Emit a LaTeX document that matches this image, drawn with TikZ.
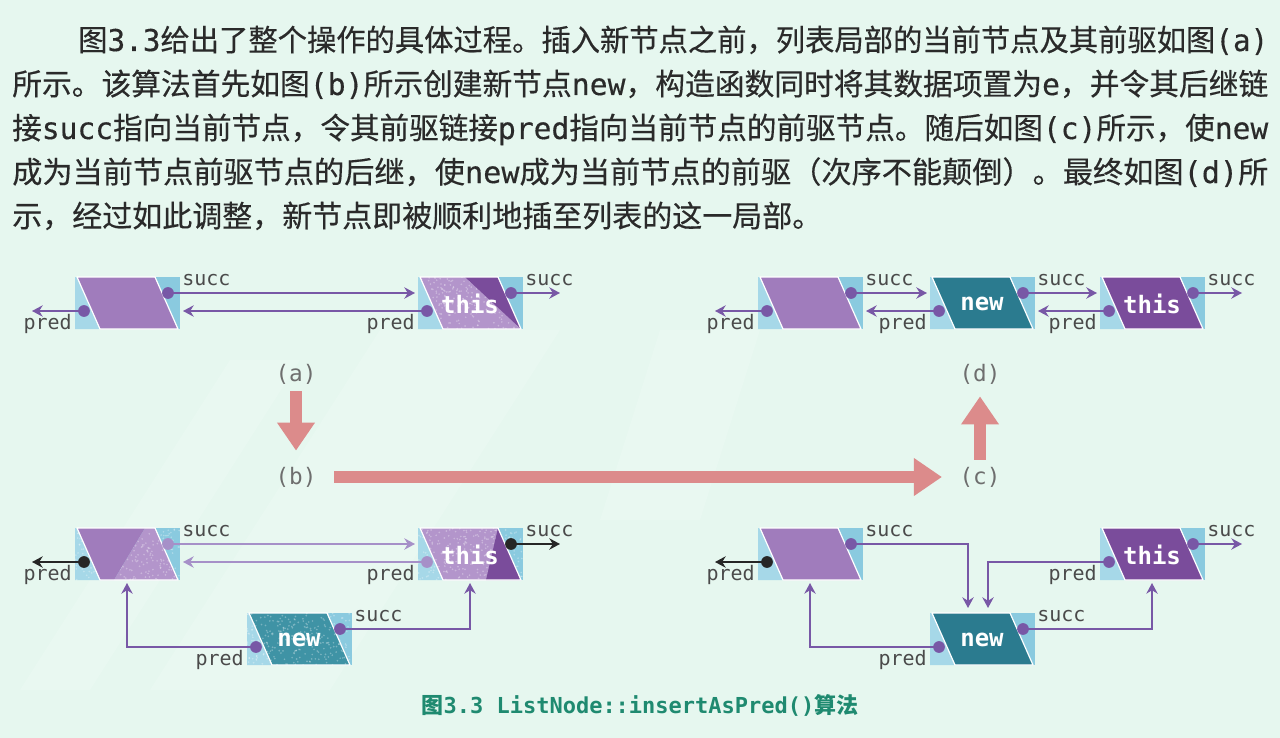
\documentclass[tikz,border=0pt]{standalone}
\usepackage{fontspec}
\usepackage{graphicx}
\setmainfont{Noto Sans CJK SC}
\newfontfamily\parafont[FakeBold=0.35]{Noto Sans CJK SC}
\newfontfamily\monofont{DejaVu Sans Mono}
\newfontfamily\paramono[FakeBold=0.35]{DejaVu Sans Mono}
\usetikzlibrary{arrows.meta,calc}

\definecolor{bgc}{HTML}{E6F7EF}
\definecolor{txtc}{HTML}{2A2A2A}
\definecolor{labc}{HTML}{4A4A4A}
\definecolor{stagec}{HTML}{6E6E6E}
\definecolor{capc}{HTML}{1F8A70}
\definecolor{linkc}{HTML}{7858A6}
\definecolor{palec}{HTML}{A690C8}
\definecolor{darkc}{HTML}{262626}
\definecolor{cellc}{HTML}{8ACADF}
\definecolor{celllt}{HTML}{A6D8E8}
\definecolor{plum}{HTML}{A07CBC}
\definecolor{plumlt}{HTML}{B395CB}
\definecolor{plumdk}{HTML}{7A4C9B}
\definecolor{tealc}{HTML}{2B7B8F}
\definecolor{teallt}{HTML}{3F93A5}
\definecolor{redc}{HTML}{DC8B8B}

\newcommand\m[1]{{\paramono #1}}
\newcommand\cm[1]{{\monofont #1}}

\tikzset{
  para/.style={inner sep=0pt, text=txtc, font=\parafont\fontsize{22.5}{27}\selectfont},
  lab/.style={inner sep=0pt, text=labc, font=\monofont\fontsize{15}{17}\selectfont},
  stage/.style={inner sep=1pt, text=stagec, font=\monofont\fontsize{17}{20}\selectfont},
  celltext/.style={inner sep=0pt, text=white, font=\monofont\bfseries\fontsize{18}{21}\selectfont},
  link/.style={draw=linkc, line width=2.2pt, -{Stealth[length=8pt,width=8.5pt]}},
  palelink/.style={link, draw=palec},
  darklink/.style={link, draw=darkc},
  bigarrow/.style={draw=redc, line width=9.5pt, -{Triangle[length=21pt,width=27pt]}},
  caption/.style={inner sep=0pt, text=capc, font=\bfseries\fontsize{16.5}{20}\selectfont},
  haze/.style={fill=white, opacity=0.14},
}

% grainy overlay clipped to a region given in local node coordinates
\newcommand\speckle[1]{%
  \begin{scope}
    \clip #1;
    \foreach \k in {1,...,260}{\fill[white,opacity=.3] (rnd*105,rnd*52) circle[radius=.7pt];}
  \end{scope}}

% list node: #1 name, #2/#3 top-left corner, #4 body drawing, #5 label
\newcommand\listnode[5]{%
  \begin{scope}[shift={(#2,#3)}]
    \coordinate (tl) at (2,0);  \coordinate (tr) at (80,0);
    \coordinate (br) at (103,52); \coordinate (bl) at (25,52);
    \fill[cellc] (0,0) rectangle (105,52);
    \fill[celllt] (0,0) -- (tl) -- (bl) -- (0,52) -- cycle;
    #4
    \draw[white, line width=0.9pt, line join=round] (tl) -- (tr) -- (br) -- (bl) -- cycle;
    \coordinate (#1-s) at (93,16);
    \coordinate (#1-p) at (9,34);
    \coordinate (#1-w) at (-3,16);
    \coordinate (#1-e) at (108,34);
    \coordinate (#1-so) at (142,16);
    \coordinate (#1-po) at (-43,34);
    \coordinate (#1-b) at (52,55);
    \coordinate (#1-t1) at (38,-5);
    \coordinate (#1-t2) at (58,-5);
    \node[celltext] (#1) at (52,27) {#5};
    \node[lab, anchor=west] (#1-sl) at (107,3) {succ};
    \node[lab, anchor=east] (#1-pl) at (-3,47) {pred};
  \end{scope}}

\newcommand\dotat[2][linkc]{\fill[#1] (#2) circle[radius=4.4pt];}

\begin{document}
\begin{tikzpicture}[x=0.75pt,y=-0.75pt]
\pgfmathsetseed{11}
\useasboundingbox (0,0) rectangle (1280,738);
\fill[bgc] (0,0) rectangle (1280,738);
% faint light bands behind the diagrams
\fill[haze] (150,690) -- (330,690) -- (560,330) -- (380,330) -- cycle;
\fill[haze] (20,690) -- (90,690) -- (300,360) -- (230,360) -- cycle;
\fill[haze] (600,520) -- (700,520) -- (760,330) -- (660,330) -- cycle;

% ---- paragraph ----
\node[para, anchor=base west] (p1) at (78,51)
  {\resizebox{892.5pt}{\height}{图\m{3.3}给出了整个操作的具体过程。插入新节点之前，列表局部的当前节点及其前驱如图\m{(a)}}};
\node[para, anchor=base west] (p2) at (12,95)
  {\resizebox{942pt}{\height}{所示。该算法首先如图\m{(b)}所示创建新节点\m{new}，构造函数同时将其数据项置为\m{e}，并令其后继链}};
\node[para, anchor=base west] (p3) at (12,139)
  {\resizebox{942pt}{\height}{接\m{succ}指向当前节点，令其前驱链接\m{pred}指向当前节点的前驱节点。随后如图\m{(c)}所示，使\m{new}}};
\node[para, anchor=base west] (p4) at (12,183)
  {\resizebox{942pt}{\height}{成为当前节点前驱节点的后继，使\m{new}成为当前节点的前驱（次序不能颠倒）。最终如图\m{(d)}所}};
\node[para, anchor=base west] (p5) at (12,227)
  {示，经过如此调整，新节点即被顺利地插至列表的这一局部。};

% ---- (a) before insertion ----
\listnode{aL}{75}{277}{\fill[plum] (tl)--(tr)--(br)--(bl)--cycle;}{}
\listnode{aT}{418}{277}{\fill[plumlt] (tl)--(tr)--(br)--(bl)--cycle;
  \speckle{(tl)--(tr)--(br)--(bl)--cycle}
  \fill[plumdk] (47,0)--(tr)--(br)--cycle;}{this}
\draw[link] (aL-s) -- (aT-w);
\draw[link] (aT-p) -- (aL-e);
\draw[link] (aL-p) -- (aL-po);
\draw[link] (aT-s) -- (aT-so);
\dotat{aL-s}\dotat{aL-p}\dotat{aT-s}\dotat{aT-p}

% ---- (d) after insertion ----
\listnode{dL}{758}{277}{\fill[plum] (tl)--(tr)--(br)--(bl)--cycle;}{}
\listnode{dN}{930}{277}{\fill[tealc] (tl)--(tr)--(br)--(bl)--cycle;}{new}
\listnode{dT}{1100}{277}{\fill[plumdk] (tl)--(tr)--(br)--(bl)--cycle;}{this}
\draw[link] (dL-s) -- (dN-w);
\draw[link] (dN-p) -- (dL-e);
\draw[link] (dN-s) -- (dT-w);
\draw[link] (dT-p) -- (dN-e);
\draw[link] (dL-p) -- (dL-po);
\draw[link] (dT-s) -- (dT-so);
\dotat{dL-s}\dotat{dL-p}\dotat{dN-s}\dotat{dN-p}\dotat{dT-s}\dotat{dT-p}

% ---- (b) new node created ----
\listnode{bL}{75}{528}{\speckle{(0,0) rectangle (105,52)}
  \fill[plum] (tl)--(70,0)--(39,52)--(bl)--cycle;
  \fill[plumlt] (70,0)--(tr)--(br)--(39,52)--cycle;
  \speckle{(70,0)--(tr)--(br)--(39,52)--cycle}}{}
\listnode{bT}{418}{528}{\speckle{(0,0) rectangle (105,52)}
  \fill[plumlt] (tl)--(tr)--(br)--(bl)--cycle;
  \speckle{(tl)--(tr)--(br)--(bl)--cycle}
  \fill[plumdk] (tr)--(br)--(68,52)--cycle;}{this}
\listnode{bN}{247}{613}{\speckle{(0,0) rectangle (105,52)}
  \fill[teallt] (tl)--(tr)--(br)--(bl)--cycle;
  \speckle{(tl)--(tr)--(br)--(bl)--cycle}}{new}
\draw[palelink] (bL-s) -- (bT-w);
\draw[palelink] (bT-p) -- (bL-e);
\draw[darklink] (bL-p) -- (bL-po);
\draw[darklink] (bT-s) -- (bT-so);
\draw[link] (bN-p) -| (bL-b);
\draw[link] (bN-s) -| (bT-b);
\dotat[palec]{bL-s}\dotat[palec]{bT-p}
\dotat[darkc]{bL-p}\dotat[darkc]{bT-s}
\dotat{bN-s}\dotat{bN-p}

% ---- (c) links redirected ----
\listnode{cL}{758}{528}{\fill[plum] (tl)--(tr)--(br)--(bl)--cycle;}{}
\listnode{cT}{1100}{528}{\fill[plumdk] (tl)--(tr)--(br)--(bl)--cycle;}{this}
\listnode{cN}{930}{613}{\fill[tealc] (tl)--(tr)--(br)--(bl)--cycle;}{new}
\draw[darklink] (cL-p) -- (cL-po);
\draw[link] (cL-s) -| (cN-t1);
\draw[link] (cT-p) -| (cN-t2);
\draw[link] (cN-p) -| (cL-b);
\draw[link] (cN-s) -| (cT-b);
\draw[link] (cT-s) -- (cT-so);
\dotat[darkc]{cL-p}
\dotat{cL-s}\dotat{cT-p}\dotat{cN-p}\dotat{cN-s}\dotat{cT-s}

% ---- stage labels and flow arrows ----
\node[stage] (sa) at (296,374) {(a)};
\node[stage] (sb) at (296,477) {(b)};
\node[stage] (sc) at (980,477) {(c)};
\node[stage] (sd) at (980,374) {(d)};
\draw[bigarrow, shorten <=4pt, shorten >=11pt] (sa) -- (sb);
\draw[bigarrow, shorten <=12pt, shorten >=12pt] (sb) -- (sc);
\draw[bigarrow, shorten <=4pt, shorten >=8pt] (sc) -- (sd);

% ---- caption ----
\node[caption] (cap) at (640,705) {图\cm{3.3 ListNode::insertAsPred()}算法};
\end{tikzpicture}
\end{document}
